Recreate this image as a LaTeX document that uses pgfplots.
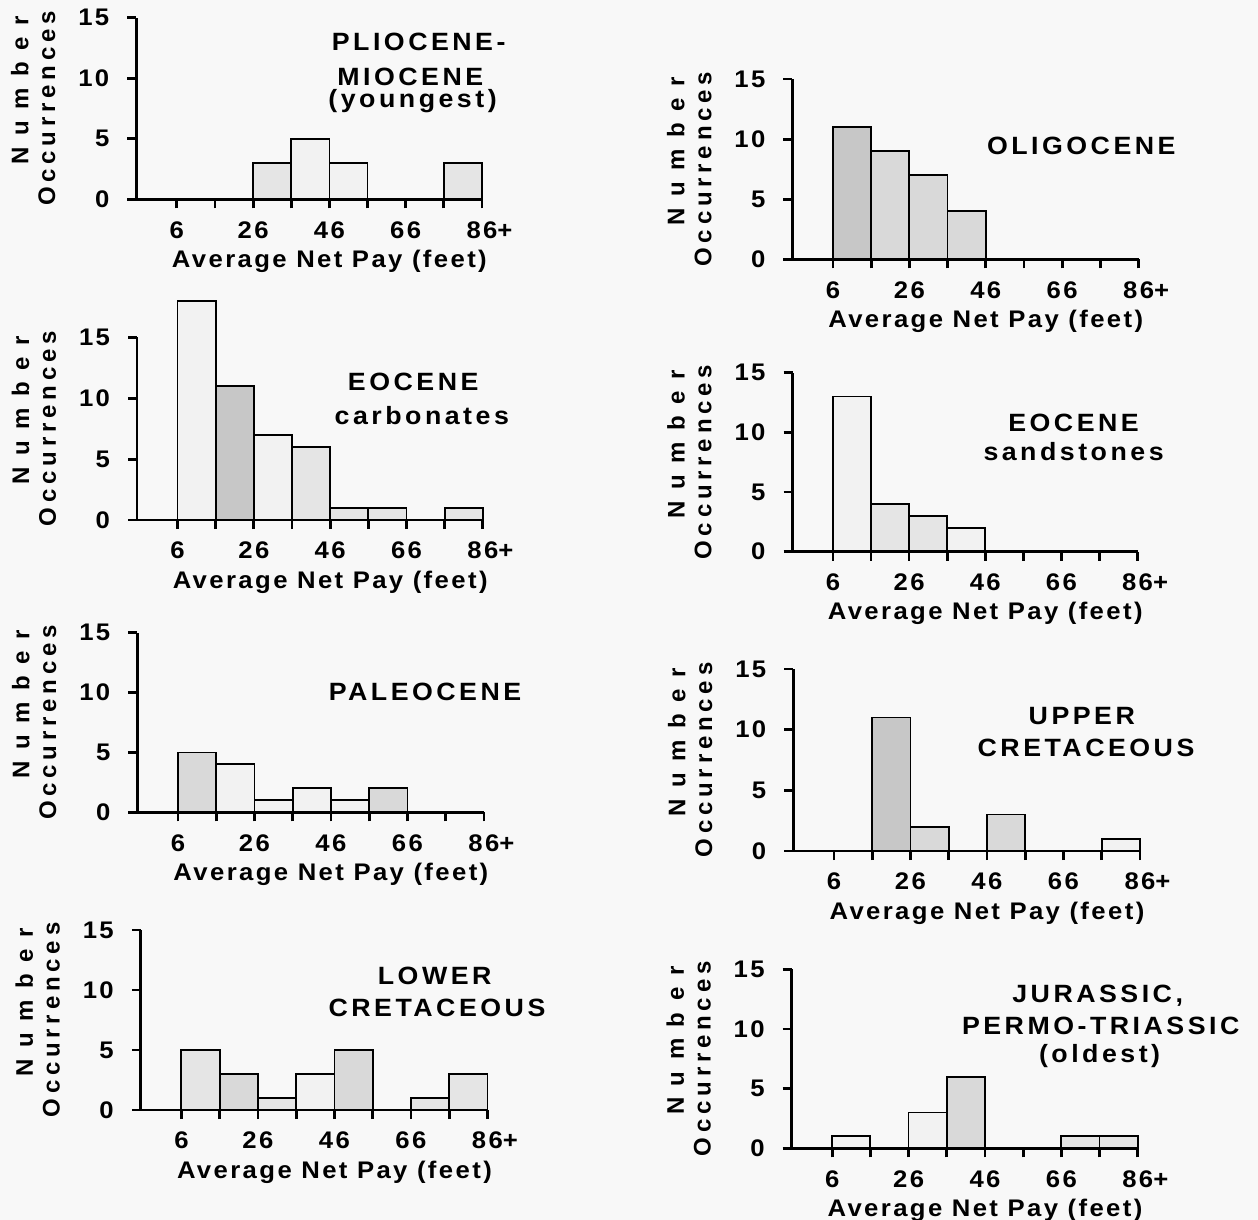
\documentclass[border=0pt]{standalone}
\usepackage{fontspec}
\setmainfont{Liberation Sans}
\usepackage{pgfplots}
\pgfplotsset{compat=1.18}
\definecolor{bg}{gray}{0.973}
\definecolor{s0}{gray}{0.95}
\definecolor{s1}{gray}{0.90}
\definecolor{s2}{gray}{0.85}
\definecolor{s3}{gray}{0.78}
\newcommand\lbl{\bfseries\fontsize{12}{12.5}\selectfont\addfontfeature{LetterSpace=10,FakeStretch=1.07}}
\newcommand\ylbl{\bfseries\fontsize{12}{13.4}\selectfont}
\newcommand\ttl{\bfseries\fontsize{12.5}{15}\selectfont\addfontfeature{LetterSpace=14,FakeStretch=1.07}}
\pgfplotsset{
  histo/.style={
    anchor=south west,
    xmin=-4.6, xmax=86, ymin=0, ymax=15,
    axis x line=bottom, axis y line=left,
    axis line style={-, line width=1.4pt},
    major tick style={line width=1.4pt, black},
    tick align=outside, major tick length=4.5pt,
    xtick={6,16,...,86},
    xticklabels={6,{},26,{},46,{},66,{},86\rlap{+}},
    ytick={0,5,10,15},
    /pgf/number format/assume math mode=true,
    tick label style={font=\lbl},
    xticklabel style={yshift=-3pt},
    yticklabel style={xshift=-5.5pt},
    xlabel={Average Net Pay (feet)},
    xlabel style={font=\lbl, at={(axis description cs:0.5585,0)}, anchor=base, yshift=-34pt},
    ylabel={\hspace*{18pt}{\addfontfeature{LetterSpace=48}Number}\\{\addfontfeature{LetterSpace=20}Occurrences}},
    ylabel style={font=\ylbl, align=center, inner sep=0pt, at={([xshift=-40.25pt]axis description cs:0,0.5)}, anchor=south},
    clip=false, axis on top,
  },
  hb/.style={ybar, bar width=10, bar shift=0pt, draw=black, line width=0.9pt, fill=#1},
}
\begin{document}
\begin{tikzpicture}
\fill[bg] (0,0) rectangle (629pt,-610pt);
\useasboundingbox (0,0) rectangle (629pt,-610pt);

% ---- left 1: Pliocene-Miocene
\begin{axis}[histo, x=1.9075pt, y=6.05pt, at={(68.18pt,-99.65pt)}]
\addplot[hb=s1] coordinates {(31,3) (81,3)};
\addplot[hb=s0] coordinates {(41,5) (51,3)};
\node[font=\ttl, anchor=base] at (axis cs:69.4,12.28) {PLIOCENE-};
\node[font=\ttl, anchor=base] at (axis cs:67.2,9.42) {MIOCENE};
\node[font=\ttl, anchor=base] at (axis cs:67.8,7.6) {(youngest)};
\end{axis}

% ---- left 2: Eocene carbonates
\begin{axis}[histo, x=1.9085pt, y=6.09pt, at={(68.52pt,-260pt)}]
\addplot[hb=s0] coordinates {(11,18) (31,7)};
\addplot[hb=s3] coordinates {(21,11)};
\addplot[hb=s1] coordinates {(41,6) (51,1) (61,1) (81,1)};
\node[font=\ttl, anchor=base] at (axis cs:67.75,10.67) {EOCENE};
\node[font=\ttl, anchor=base] at (axis cs:70,7.8) {carbonates};
\end{axis}

% ---- left 3: Paleocene
\begin{axis}[histo, x=1.9125pt, y=5.99pt, at={(68.68pt,-406.15pt)}]
\addplot[hb=s2] coordinates {(11,5) (61,2)};
\addplot[hb=s0] coordinates {(21,4) (31,1) (41,2) (51,1)};
\node[font=\ttl, anchor=base] at (axis cs:70.6,9.36) {PALEOCENE};
\end{axis}

% ---- left 4: Lower Cretaceous
\begin{axis}[histo, x=1.913pt, y=6.0pt, at={(70.42pt,-555pt)}]
\addplot[hb=s1] coordinates {(11,5) (31,1) (71,1) (81,3)};
\addplot[hb=s2] coordinates {(21,3) (51,5)};
\addplot[hb=s0] coordinates {(41,3)};
\node[font=\ttl, anchor=base] at (axis cs:72.2,10.5) {LOWER};
\node[font=\ttl, anchor=base] at (axis cs:72.8,7.83) {CRETACEOUS};
\end{axis}

% ---- right 1: Oligocene
\begin{axis}[histo, x=1.9105pt, y=6.01pt, at={(396.2pt,-129.65pt)}]
\addplot[hb=s3] coordinates {(11,11)};
\addplot[hb=s2] coordinates {(21,9) (31,7) (41,4)};
\node[font=\ttl, anchor=base] at (axis cs:71,8.74) {OLIGOCENE};
\end{axis}

% ---- right 2: Eocene sandstones
\begin{axis}[histo, x=1.904pt, y=5.97pt, at={(396.27pt,-275.85pt)}]
\addplot[hb=s0] coordinates {(11,13) (41,2)};
\addplot[hb=s1] coordinates {(21,4) (31,3)};
\node[font=\ttl, anchor=base] at (axis cs:69.2,10.1) {EOCENE};
\node[font=\ttl, anchor=base] at (axis cs:69.2,7.6) {sandstones};
\end{axis}

% ---- right 3: Upper Cretaceous
\begin{axis}[histo, x=1.913pt, y=6.07pt, at={(396.67pt,-425.5pt)}]
\addplot[hb=s3] coordinates {(21,11)};
\addplot[hb=s2] coordinates {(31,2) (51,3)};
\addplot[hb=s0] coordinates {(81,1)};
\node[font=\ttl, anchor=base] at (axis cs:70.8,10.4) {UPPER};
\node[font=\ttl, anchor=base] at (axis cs:71.9,7.8) {CRETACEOUS};
\end{axis}

% ---- right 4: Jurassic, Permo-Triassic
\begin{axis}[histo, x=1.91pt, y=5.97pt, at={(395.85pt,-574.15pt)}]
\addplot[hb=s0] coordinates {(11,1) (31,3)};
\addplot[hb=s2] coordinates {(41,6)};
\addplot[hb=s1] coordinates {(71,1) (81,1)};
\node[font=\ttl, anchor=base] at (axis cs:75.5,12.24) {JURASSIC,};
\node[font=\ttl, anchor=base] at (axis cs:76.3,9.56) {PERMO-TRIASSIC};
\node[font=\ttl, anchor=base] at (axis cs:76.0,7.15) {(oldest)};
\end{axis}
\end{tikzpicture}
\end{document}
